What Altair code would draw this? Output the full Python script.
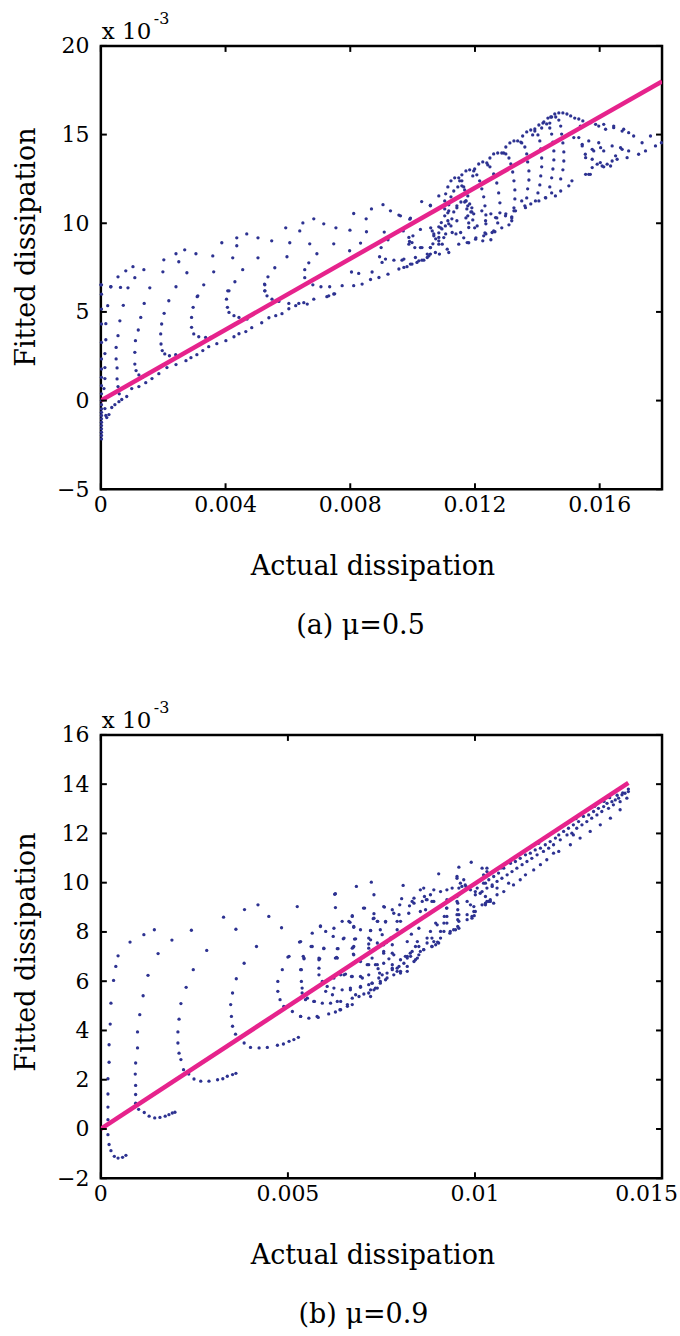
import altair as alt
import pandas as pd

FONT = "DejaVu Serif"
DOT = "#2D3291"
PINK = "#E6238C"

# ---------------- Panel (a) mu = 0.5 : (actual dissipation x1e-3, fitted dissipation x1e-3)
a_col0 = [(0.02,6.53),(0.02,6.00),(0.02,5.16),(0.02,4.32),(0.02,3.28),(0.02,2.35),(0.02,1.78),(0.02,1.31),
          (0.02,0.84),(0.02,0.38),(0.02,0.00),(0.02,-0.23),(0.02,-0.47),(0.02,-0.66),(0.02,-0.84),(0.02,-1.03),
          (0.02,-1.22),(0.02,-1.41),(0.02,-1.59),(0.02,-1.78),(0.02,-1.97),(0.02,-2.16)]
a_arcs_left = [(0.32,6.42),(0.22,5.35),(0.16,4.34),(0.16,3.43),(0.13,2.65),(0.13,1.86),(0.13,1.24),(0.10,0.68),
               (0.13,0.06),(0.13,-0.45),(0.16,-0.84),(0.19,-0.96),(0.26,-0.79),
               (0.63,6.38),(0.72,5.37),(0.61,4.50),(0.55,3.66),(0.49,3.00),(0.49,2.35),(0.52,1.84),(0.52,1.22),
               (0.55,0.79),(0.59,0.38),
               (1.39,5.48),(1.28,4.69),(1.20,3.98),(1.11,3.38),(1.09,2.72),(1.09,2.06),(1.13,1.69),(1.22,1.45),(1.33,1.31),
               (2.18,5.63),(2.03,4.92),(1.95,4.32),(1.92,3.76),(1.93,3.19),(1.97,2.82),(2.05,2.63),(2.20,2.53),(2.40,2.59),
               (3.09,5.86),(2.96,5.26),(2.91,4.69),(2.91,4.13),(2.98,3.76),(3.14,3.60),(3.36,3.56),(3.52,3.56),
               (4.07,6.19),(4.03,5.72),(4.06,5.26),(4.11,4.97),(4.27,4.79),(4.43,4.69),(4.69,4.60),
               (5.25,6.57),(5.26,6.19),(5.33,5.91),(5.49,5.72),(5.71,5.59),(6.03,5.48),(6.35,5.48),
               (6.83,5.72),(6.62,5.44),(7.31,5.91),(7.47,6.01)]
a_tops = [(0.00,6.53),(0.32,6.42),(0.55,6.98),(0.80,7.32),(1.03,7.55),(1.09,6.93),(0.87,6.36),(1.38,7.38),(1.57,6.36),
          (1.99,7.26),(2.02,7.94),(2.41,8.28),(2.50,7.83),(2.69,8.50),(3.05,8.28),(2.76,7.21),(2.41,6.42),(3.11,5.91),
          (3.30,6.53),(3.59,8.16),(3.62,7.26),(3.88,8.90),(4.23,8.05),(4.36,9.18),(4.36,8.73),(4.55,7.38),(4.30,6.70),
          (4.11,6.19),(4.68,9.40),(5.04,9.18),(5.04,8.05),(5.48,9.01),(5.58,7.49),(5.36,6.98),(5.26,6.53),(5.26,6.19),
          (5.93,9.74),(6.06,8.90),(5.97,8.11),(6.38,9.57),(6.48,10.02),(6.83,10.25),(7.15,9.97),(7.54,9.74),(6.70,8.84),
          (7.47,8.84),(6.93,8.28),(6.67,7.77),(6.54,7.38),(6.54,6.93),(6.80,6.53),(7.06,6.42),(7.34,6.42),(7.25,5.86),
          (7.50,6.02)]
a_band_low = [(0.35,-0.39),(0.45,-0.23),(0.58,-0.06),(0.67,0.06),(0.83,0.23),(0.99,0.68),(1.22,0.79),(1.44,1.01),
              (1.64,1.24),(1.86,1.52),(2.12,1.86),(2.41,2.03),(2.73,2.25),(2.89,2.42),(3.08,2.59),(3.27,2.82),
              (3.46,3.04),(3.72,3.21),(4.01,3.38),(4.27,3.60),(4.43,3.77),(4.65,3.89),(4.84,4.11),(5.16,4.39),
              (5.39,4.67),(5.61,4.79),(5.81,4.90),(6.03,5.18),(6.25,5.35),(6.51,5.52)]
a_mid = [(7.74,6.48),(8.11,6.48),(8.38,6.57),(8.04,7.25),(8.27,7.17),(8.65,6.83),(8.70,7.25),(8.92,6.94),(9.21,7.13),
         (9.02,7.79),(8.94,8.11),(9.13,7.98),(9.40,7.92),(9.56,7.42),(9.66,7.92),(9.82,7.55),(9.93,7.70),(10.14,7.79),
         (10.30,7.92),(10.47,8.07),(10.57,8.26),(7.98,8.45),(8.33,8.88),(8.52,9.52),(7.99,9.61),(8.11,10.55),
         (8.51,10.25),(8.68,10.81),(9.05,11.05),(9.29,10.70),(9.56,10.46),(9.91,10.23),(10.29,11.22),(8.99,8.63),
         (9.21,9.07),(9.09,9.50),(9.70,9.57),(9.90,8.97),(10.07,8.63),(10.25,9.65),(10.01,9.29),(10.57,11.02),
         (10.84,11.54),(9.61,10.42),(9.93,10.29),(10.57,10.98),(9.88,9.20),(9.98,8.91),(10.30,8.63),(10.57,8.63),
         (10.09,8.07),(9.72,7.98),(10.47,8.26),(10.63,9.57),(10.68,9.29),(10.84,9.20),(10.95,8.82),(11.11,8.54),
         (10.86,8.26),(11.05,9.85),(10.92,10.04)]
a_hairpin = [(11.03,10.42),(11.03,10.81),(11.03,11.26),(11.06,11.66),(11.13,12.05),(11.23,12.39),(11.35,12.56),
             (11.48,12.56),(11.58,12.39),(11.64,12.05),(11.67,11.66),(11.71,11.26),(11.74,10.81),(11.77,10.42),
             (11.80,10.02),(11.13,10.14),(11.13,10.59),(11.16,11.04),(11.23,11.49),(11.32,11.82),(11.45,12.05),
             (11.58,12.11),(11.67,11.88),(11.77,11.54),(11.83,11.09),(11.90,10.64),(11.93,10.19),(11.99,9.74),
             (11.23,9.85),(11.26,10.25),(11.32,10.64),(11.42,10.98),(11.55,11.20),(11.67,11.20),(11.77,10.98),
             (11.87,10.64),(10.84,9.46),(10.94,9.68),(10.74,9.12),(10.65,8.84),(10.84,9.80)]
a_arches = [(11.51,12.39),(11.58,12.73),(11.71,12.95),(11.83,13.01),(11.96,12.95),(12.06,12.73),(12.15,12.39),
            (12.22,11.94),(12.28,11.49),(12.32,10.98),(12.35,10.47),(12.35,9.97),(12.32,9.46),(12.25,9.01),
            (11.93,12.67),(11.99,13.06),(12.12,13.34),(12.25,13.46),(12.38,13.40),(12.48,13.18),(12.60,12.78),
            (12.70,12.27),(12.76,11.71),(12.80,11.15),(12.80,10.59),(12.73,10.02),(12.64,9.52),(12.51,9.07),
            (12.41,13.29),(12.48,13.68),(12.60,13.91),(12.73,13.96),(12.86,13.96),(12.99,13.91),(13.09,13.68),
            (13.15,13.34),(13.21,12.89),(13.25,12.39),(13.28,11.88),(13.28,11.37),(13.25,10.87),(13.18,10.36),
            (13.09,9.91),
            (12.92,13.96),(12.99,14.30),(13.12,14.53),(13.25,14.64),(13.37,14.64),(13.50,14.53),(13.60,14.30),
            (13.66,13.91),(13.69,13.46),(13.73,12.95),(13.73,12.44),(13.69,11.94),(13.66,11.43),(13.60,10.98),
            (13.47,14.58),(13.53,14.92),(13.66,15.15),(13.79,15.26),(13.92,15.20),(14.02,14.98),(14.08,14.64),
            (14.11,14.19),(14.14,13.68),(14.14,13.18),(14.11,12.67),(14.08,12.16),(14.02,11.71),
            (13.85,14.98),(13.92,15.32),(14.05,15.54),(14.18,15.65),(14.30,15.60),(14.40,15.37),(14.46,15.03),
            (14.50,14.58),(14.53,14.08),(14.53,13.57),(14.50,13.06),(14.46,12.56),(14.40,12.05),
            (14.14,15.37),(14.21,15.71),(14.34,15.93),(14.46,15.99),(14.59,15.99),(14.69,15.82),(14.75,15.48),
            (14.78,15.03),(14.82,14.53),(14.85,14.02),(14.85,13.51),(14.82,13.01),(14.75,12.50),
            (14.40,15.65),(14.43,15.99),(14.56,16.16),(14.69,16.22),(14.82,16.22),(14.95,16.16),(15.07,16.05),
            (15.20,15.93),(15.33,15.88),(15.46,15.77),(15.59,15.60)]
a_inner = [(11.16,10.70),(11.42,10.87),(11.71,11.26),(11.90,10.87),(11.96,10.53),(12.22,10.70),(12.51,10.53),
           (12.70,10.30),(12.99,10.53),(13.18,10.30),(13.25,10.70),(13.50,11.26),(13.79,11.09),(14.05,11.26),
           (14.27,11.43),(14.46,11.71),(14.75,11.82),(15.01,12.11),(15.11,12.39),(11.06,9.40),(11.39,9.40),
           (11.64,9.18),(11.80,8.90),(12.03,9.18),(12.35,9.40),(12.60,9.57),(12.86,9.74),(13.18,10.14),
           (10.84,9.01),(10.68,9.40),(10.58,9.74),(10.90,9.74),(11.16,9.97),(11.42,10.14),(11.71,10.30),
           (9.72,7.51),(9.98,7.70),(10.20,7.88),(10.36,7.92),(10.52,8.16),(10.73,8.35),(11.16,8.35),(11.48,8.82),
           (11.75,8.91),(12.02,9.10),(12.28,9.29),(12.55,9.48),(10.84,8.82),(11.00,9.19),(11.27,9.48),(11.54,9.48),
           (11.80,9.76),(12.07,9.85),(12.34,10.14),(12.66,10.32),(12.98,10.42),(13.30,10.70),(13.62,10.88),
           (13.94,11.26),(14.26,11.45),(14.58,11.54),(9.88,8.82),(10.25,8.63),(10.57,8.63)]
a_right = [(15.87,15.58),(16.13,15.58),(16.45,15.39),(16.77,15.30),(17.09,14.92),(17.36,14.54),(17.63,14.92),
           (17.79,14.36),(17.98,14.54),(17.47,14.08),(17.25,13.89),(16.93,14.08),(16.72,14.17),(16.51,13.80),
           (16.35,13.23),(16.13,13.18),(15.92,13.33),(15.76,13.14),(15.55,12.76),(15.65,12.76),(16.03,14.26),
           (15.76,14.17),(15.55,13.70),(15.33,14.83),(15.44,14.36),(15.17,14.83),(15.01,15.02),(15.38,15.48),
           (15.71,15.67),(15.97,15.48),(16.19,15.30),(16.45,15.48),(16.72,15.20),(16.93,15.11),(15.44,14.45),
           (15.65,14.64),(15.97,14.54),(15.81,14.08),(15.54,13.89),(16.13,14.08),(16.40,14.36),(16.67,14.26),
           (15.76,13.61),(16.02,13.42),(16.24,13.33),(16.56,13.61),(16.88,13.70),(15.70,12.76),(16.40,13.51),
           (16.08,13.23)]
a_fit_x = [0.0, 18.0]
a_fit_y = [0.0, 18.0]

# ---------------- Panel (b) mu = 0.9
b_arc1 = [(0.19,0.38),(0.19,0.89),(0.19,1.42),(0.19,2.04),(0.22,2.71),(0.22,3.42),(0.25,4.26),(0.27,5.11),
          (0.34,6.03),(0.40,6.60),(0.46,7.03),(0.78,7.59),(1.15,7.89),(1.43,8.09),(0.19,-0.23),(0.22,-0.63),
          (0.27,-0.88),(0.36,-1.11),(0.46,-1.18),(0.58,-1.15),(0.67,-1.07)]
b_arc2 = [(0.93,1.40),(0.93,1.77),(0.92,2.23),(0.93,2.68),(0.98,3.29),(0.98,3.94),(1.04,4.64),(1.13,5.41),
          (1.26,6.24),(1.53,7.12),(1.90,7.67),(2.42,8.07),(0.93,1.05),(1.01,0.80),(1.16,0.67),(1.29,0.52),
          (1.44,0.45),(1.58,0.47),(1.72,0.52),(1.82,0.58),(1.91,0.65),(1.98,0.68)]
b_arc3 = [(2.21,2.41),(2.14,2.82),(2.09,3.08),(2.06,3.49),(2.06,3.94),(2.09,4.46),(2.14,5.09),(2.28,5.75),
          (2.47,6.47),(2.83,7.25),(3.61,8.11),(3.28,8.60),(3.84,8.91),(4.20,9.10),(2.35,2.23),(2.49,2.03),
          (2.67,1.94),(2.89,1.94),(3.12,2.00),(3.26,2.04),(3.38,2.14),(3.52,2.21),(3.61,2.26)]
b_arc4 = [(3.83,6.73),(3.62,6.10),(3.52,5.52),(3.47,5.05),(3.49,4.57),(3.52,4.17),(3.60,3.85),(3.83,3.49),
          (4.00,3.31),(4.23,3.29),(4.45,3.31),(4.72,3.40),(4.88,3.45),(5.03,3.56),(5.16,3.63),(5.28,3.72),
          (4.16,7.41),(4.49,8.63),(4.83,8.17),(5.25,9.03)]
b_arc5 = [(5.03,7.01),(4.85,6.47),(4.73,5.99),(4.73,5.59),(4.79,5.25),(4.89,4.98),(5.12,4.77),(5.34,4.57),
          (5.56,4.50),(5.81,4.53),(6.09,4.67),(6.27,4.75),(6.39,4.84),
          (5.41,7.01),(5.36,6.47),(5.36,5.99),(5.38,5.52),(5.47,5.25),(5.69,5.18),(5.92,5.11),(6.14,5.11),(6.32,5.18),
          (5.65,7.41),(5.96,7.34),(5.83,6.94),(5.83,6.53),(5.83,6.26),(5.87,5.86),(6.01,5.59),(6.19,5.45),
          (6.23,6.13),(6.27,6.94),
          (5.00,6.98),(5.31,7.59),(5.43,6.91),(5.62,7.41),(5.85,6.91),(5.87,8.22),(6.01,8.02),(6.21,7.82),
          (5.96,7.32),(6.25,9.53),(6.27,8.99),(6.30,6.97),(6.34,7.32)]
b_fan_mid = [(5.34,7.61),(5.43,6.94),(5.34,6.47),(5.38,5.72),(5.52,5.31),(5.71,5.18),(6.41,5.18),(6.59,4.98),
             (6.72,5.05),(5.34,4.57),(5.78,4.57),(6.41,4.84),
             (6.27,9.55),(6.83,9.85),(7.23,10.02),(7.30,9.51),(8.08,9.89),(9.03,10.36),(9.57,10.63),(9.90,10.83),
             (5.87,8.25),(6.48,7.72),(6.66,8.39),(6.72,8.66),(6.76,8.19),(6.78,7.71),(6.74,7.37),(6.75,7.10),
             (6.81,6.80),(6.94,6.80),(7.05,8.97),(7.30,8.74),(7.28,8.54),(7.40,8.43),(7.21,8.06),(7.16,7.75),
             (7.16,7.51),(7.21,7.21),(7.25,6.94),(7.34,6.67),(7.41,6.51),(7.52,6.26),(7.61,6.06),(7.58,9.01),
             (7.79,8.90),(7.83,8.76),(7.99,9.10),(8.04,9.35),(8.25,9.06),(8.37,9.17),(8.37,9.37),(7.61,8.40),
             (7.92,8.43),(7.92,8.09),(7.52,7.89),(7.63,7.57),(7.74,7.75),(7.56,7.21),(7.70,6.91),(7.79,6.67),
             (7.92,6.53),(8.01,6.33),(8.19,6.40),(8.19,7.61),(8.30,7.91),(8.46,7.61),(8.50,8.15),(8.54,8.83),
             (8.63,9.78),(8.65,9.44),(8.70,9.31),(8.81,9.51),(8.90,9.24),(9.08,9.64),(9.25,9.71),(8.54,7.21),
             (8.37,6.80),(8.46,6.94),(8.63,7.28),(8.72,7.55),(8.85,7.75),(8.95,7.48),(8.85,7.41),(9.00,7.59),
             (8.95,8.36),(9.17,8.36),(9.18,8.63),(9.24,8.97),(9.25,9.31),(9.17,8.02),(9.33,7.95),(9.43,8.09),
             (9.54,8.22),(9.54,8.50),(9.57,8.70),(9.54,8.90),(9.54,9.17),(9.52,9.44),(9.52,10.25),(9.70,10.12),
             (9.61,9.98),(9.76,9.85),(9.88,9.71),(10.01,9.64),(10.14,9.57),(10.28,9.44),(10.41,9.31),(10.50,9.17),
             (9.79,9.24),(9.88,9.10),(9.97,8.83),(9.98,8.66),(9.79,8.70),(9.92,8.56),(9.79,8.50),(10.19,9.10),
             (10.28,9.17),(10.37,9.24),(10.19,10.59),(10.32,10.59),(10.23,10.32),(10.28,9.98),(10.46,9.85),
             (10.59,9.78),
             (6.32,7.32),(6.32,6.94),(5.83,6.87),(5.92,5.99),(6.05,5.79),(6.23,5.72),(6.45,5.65),(6.67,5.65),
             (6.41,6.26),(6.54,6.29),(6.70,6.19),(6.94,5.75),(6.99,6.13),(7.16,6.67),(7.25,5.92),(7.39,5.72),
             (7.16,5.86),(7.43,6.13),(7.65,6.33),(7.79,6.53),(7.92,6.40),(8.01,6.87),(8.10,6.73),(8.19,7.01),
             (8.27,7.14),(6.72,5.31),(6.81,5.45),(7.03,5.48),(7.16,5.52),(7.47,5.92),(7.21,5.38),(7.30,5.65),
             (5.65,7.95),(6.23,8.15),(6.45,8.43)]
b_fan_low = [(6.59,5.05),(6.90,5.38),(7.21,5.65),(7.34,5.72),(7.47,5.99),(7.65,6.13),(7.83,6.26),(8.01,6.40),
             (8.19,6.60),(8.41,6.87),(8.63,7.28),(8.85,7.41),(9.03,7.55),(6.67,5.72),(6.94,5.79),(7.25,5.92),
             (7.45,6.33),(7.79,6.47),(7.97,6.60),(8.28,7.01),(8.50,7.07),(6.50,6.26),(6.72,6.19),(6.94,6.19),
             (7.16,6.26),(7.39,6.67),(7.56,6.73),(7.79,7.14),(8.19,6.94),(8.41,7.41),(6.76,7.07),(6.76,7.41),
             (7.12,6.67),(7.56,7.14),(7.79,7.48),(7.16,7.34)]
b_fan_up = [(6.72,8.63),(6.63,8.43),(6.76,8.22),(6.94,8.09),(7.21,8.05),(6.50,7.75),(6.81,7.72),(6.72,7.34),
            (7.02,8.97),(7.30,8.56),(7.39,8.43),(7.56,9.03),(7.61,8.43),(7.47,8.09),(7.21,7.68),(7.39,7.55),
            (7.56,7.48),(7.97,8.70),(8.01,8.43),(8.05,8.02),(8.23,8.76),(8.32,9.24),(8.54,9.71),(8.59,9.24),
            (8.72,9.31),(8.68,8.90),(8.85,9.24),(8.90,9.71),(9.39,9.78),(9.52,10.18),(9.57,9.78),(9.65,9.85),
            (9.74,9.91),(9.57,9.51),(9.52,9.24),(9.52,8.70),(9.57,8.43),(9.57,8.15),(9.92,8.63),(9.97,9.03),
            (10.01,8.83),(10.32,9.24),(9.25,8.97),(9.25,8.63),(9.25,8.36),(9.34,8.02),(9.48,8.09),(8.99,8.29),
            (9.08,8.02),(8.81,8.02),(8.72,7.75),(8.50,7.41),(8.32,7.21),(8.14,7.01),(7.83,7.07),(9.08,7.75),
            (8.90,7.61),(10.32,10.45)]
b_band = [(14.10,13.70),(14.01,13.63),(13.93,13.57),(13.84,13.43),(13.88,13.29),(13.75,13.36),(13.66,13.29),
          (13.70,13.16),(13.53,13.22),(13.57,13.02),(13.44,13.09),(13.39,12.89),(13.30,13.02),(13.26,12.75),
          (13.17,12.89),(13.12,12.62),(13.04,12.75),(12.99,12.48),(12.90,12.69),(12.86,12.35),(12.77,12.48),
          (12.72,12.21),(12.63,12.35),(12.59,12.01),(12.50,12.21),(12.46,11.94),(12.37,12.08),(12.28,11.74),
          (12.24,11.94),(12.15,11.81),(12.10,11.54),(12.01,11.67),(11.97,11.40),(11.88,11.54),(11.83,11.27),
          (11.75,11.40),(11.66,11.13),(11.61,11.33),(11.52,10.99),(11.48,11.20),(11.39,10.86),(11.35,11.13),
          (11.26,10.73),(11.21,10.99),(11.12,10.59),(11.08,10.86),(10.99,10.45),(10.95,10.79),(10.86,10.32),
          (10.77,10.59),(10.72,10.18),(10.63,10.39),(10.59,10.05),(10.50,10.25),(10.46,9.91),(10.37,10.12),
          (10.32,9.78),(10.23,9.98),(10.19,9.64),(10.06,9.78),(10.01,9.51),
          (12.24,11.27),(11.92,10.93),(11.75,10.73),(11.57,10.52),(11.35,10.32),(11.21,10.12),(11.03,9.91),
          (10.90,9.98),(10.77,9.64),(10.59,9.51),(10.41,9.24),(10.28,9.10),(12.55,11.54),(12.81,11.81),
          (13.08,12.08),(13.35,12.35),(13.62,12.62),(13.88,12.96),(14.06,13.43),(12.63,11.94),(12.10,11.20),
          (14.10,13.80),(13.95,13.65),(13.80,13.55),(13.60,13.45),(13.45,13.30),(13.20,13.10),(12.95,12.90),
          (12.70,12.60),(12.45,12.40),(12.20,12.15),(11.95,11.90),(11.70,11.60),(11.45,11.40),(11.20,11.15),
          (10.95,10.90),(10.70,10.60)]
b_fit_x = [0.0, 14.1]
b_fit_y = [0.0, 14.05]

a_xticks = [0, 0.004, 0.008, 0.012, 0.016]
a_xlabels = ["0", "0.004", "0.008", "0.012", "0.016"]
a_yticks = [-5, 0, 5, 10, 15, 20]
b_xticks = [0, 0.005, 0.01, 0.015]
b_xlabels = ["0", "0.005", "0.01", "0.015"]
b_yticks = [-2, 0, 2, 4, 6, 8, 10, 12, 14, 16]

W, H = 562, 444


def panel(points, fit_x, fit_y, xdom, xticks, xlabels, ydom, yticks, caption, cap_dx, ytitle_y, edge_last):
    df = pd.DataFrame(points, columns=["actual_e3", "fitted"])
    df["actual"] = df["actual_e3"] / 1000.0
    fit = pd.DataFrame({"actual": [v / 1000.0 for v in fit_x], "fitted": fit_y})
    xs = alt.Scale(domain=xdom, nice=False, zero=False)
    ys = alt.Scale(domain=ydom, nice=False, zero=False)
    xaxis = alt.Axis(values=xticks, labels=False, title="Actual dissipation", grid=False, domain=False,
                     ticks=False, tickSize=0,
                     titleFont=FONT, titleFontSize=27,
                     titleFontWeight="normal", titleColor="black", titleX=272, titleY=85,
                     titleBaseline="alphabetic", titleAlign="center")
    yaxis = alt.Axis(values=yticks, format="d", title="Fitted dissipation", grid=False, domain=False,
                     ticks=False, tickSize=0, labelFont=FONT, labelFontSize=22, labelColor="black",
                     labelPadding=12, titleFont=FONT, titleFontSize=27, titleFontWeight="normal",
                     titleColor="black", titleX=-66, titleY=ytitle_y, titleBaseline="alphabetic",
                     titleAlign="center", titleAngle=270)
    xenc = alt.X("actual:Q", scale=xs, axis=xaxis)
    yenc = alt.Y("fitted:Q", scale=ys, axis=yaxis)

    dots = alt.Chart(df).mark_circle(size=11, color=DOT, opacity=1).encode(x=xenc, y=yenc)
    line = alt.Chart(fit).mark_line(color=PINK, strokeWidth=4.5, clip=True).encode(x=xenc, y=yenc)

    xt = pd.DataFrame({"actual": xticks, "lab": xlabels})
    yt = pd.DataFrame({"fitted": yticks})
    tick_b = alt.Chart(xt).mark_rule(color="black", strokeWidth=2).encode(x=xenc, y=alt.value(H), y2=alt.value(H - 6))
    tick_t = alt.Chart(xt).mark_rule(color="black", strokeWidth=2).encode(x=xenc, y=alt.value(0), y2=alt.value(6))
    tick_l = alt.Chart(yt).mark_rule(color="black", strokeWidth=2).encode(y=yenc, x=alt.value(0), x2=alt.value(6))
    tick_r = alt.Chart(yt).mark_rule(color="black", strokeWidth=2).encode(y=yenc, x=alt.value(W), x2=alt.value(W - 6))

    n_center = len(xticks) - 1 if edge_last else len(xticks)
    lab_c = alt.Chart(xt.iloc[:n_center]).mark_text(
        font=FONT, fontSize=22, align="center", baseline="top", color="black"
    ).encode(x=xenc, y=alt.value(H + 6), text="lab:N")
    layers = [dots, line, tick_b, tick_t, tick_l, tick_r, lab_c]
    if edge_last:
        lab_e = alt.Chart(xt.iloc[n_center:]).mark_text(
            font=FONT, fontSize=22, align="right", baseline="top", color="black", dx=16
        ).encode(x=xenc, y=alt.value(H + 6), text="lab:N")
        layers.append(lab_e)

    mult = alt.Chart(pd.DataFrame({"t": ["x 10"]})).mark_text(
        font=FONT, fontSize=23, align="left", baseline="alphabetic", color="black"
    ).encode(text="t:N", x=alt.value(1), y=alt.value(-7))
    expo = alt.Chart(pd.DataFrame({"t": ["-3"]})).mark_text(
        font=FONT, fontSize=16, align="left", baseline="alphabetic", color="black"
    ).encode(text="t:N", x=alt.value(53), y=alt.value(-22))
    layers += [mult, expo]

    return alt.layer(*layers).properties(
        width=W, height=H,
        title=alt.TitleParams(text=caption, orient="bottom", anchor="middle", frame="group", dx=cap_dx,
                              offset=34, font=FONT, fontSize=27, fontWeight="normal", color="black",
                              baseline="top"),
    )


pts_a = a_col0 + a_arcs_left + a_tops + a_band_low + a_mid + a_hairpin + a_arches + a_inner + a_right
pts_b = b_arc1 + b_arc2 + b_arc3 + b_arc4 + b_arc5 + b_fan_mid + b_fan_low + b_fan_up + b_band

top = panel(pts_a, a_fit_x, a_fit_y, [0, 0.018], a_xticks, a_xlabels, [-5, 20], a_yticks,
            "(a) μ=0.5", -21, 201, False)
bottom = panel(pts_b, b_fit_x, b_fit_y, [0, 0.015], b_xticks, b_xlabels, [-2, 16], b_yticks,
               "(b) μ=0.9", -18, 217, True)

chart = alt.vconcat(top, bottom, spacing=57).properties(
    padding={"left": 11, "top": 8, "right": 0, "bottom": 5}
).configure(background="white").configure_view(stroke="black", strokeWidth=2.5)

chart.save("out.html", embed_options={"renderer": "svg", "actions": False})
